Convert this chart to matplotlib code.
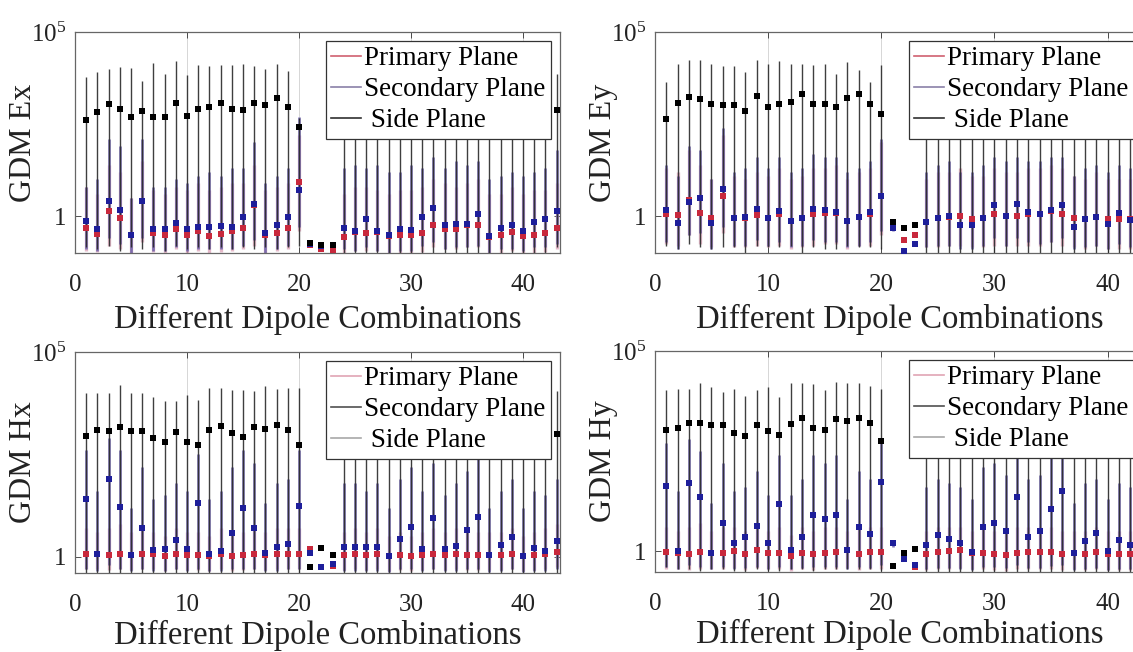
import numpy as np
import matplotlib
matplotlib.use("Agg")
import matplotlib.pyplot as plt
from matplotlib.lines import Line2D

plt.rcParams['font.family'] = ['Liberation Serif', 'DejaVu Serif']
plt.rcParams['mathtext.fontset'] = 'custom'
plt.rcParams['mathtext.rm'] = 'Liberation Serif'
plt.rcParams['mathtext.it'] = 'Liberation Serif:italic'

# dipole combination index
combos = list(range(1, 44))

# all values are log10(GDM)
# ---- Ex ----
ex_pri = [-0.32, -0.48, 0.15, -0.05, -0.52, 0.40, -0.47, -0.51, -0.36, -0.50, -0.41, -0.54, -0.48, -0.39, -0.32,
          0.30, -0.50, -0.45, -0.32, 0.92, -0.77, -0.88, -0.92, -0.56, -0.42, -0.45, -0.43, -0.54, -0.50, -0.50,
          -0.47, -0.23, -0.34, -0.34, -0.25, -0.23, -0.56, -0.52, -0.42, -0.54, -0.51, -0.47, -0.32]
ex_pri_lo = [-0.95, -0.97, -0.8, -0.9, -1.0, -0.7, -0.97, -1.0, -0.9, -1.0, -0.95, -1.0, -0.97, -0.95, -0.9,
             -0.8, -1.0, -0.95, -0.9, -0.4, -0.82, -0.93, -0.97, -1.0, -0.95, -0.95, -0.95, -1.0, -1.0, -1.0,
             -0.97, -0.85, -0.9, -0.9, -0.85, -0.85, -1.0, -1.0, -0.95, -1.0, -1.0, -0.97, -0.9]
ex_pri_hi = [0.8, 0.6, 1.4, 1.2, 0.5, 1.5, 0.7, 0.6, 0.8, 0.7, 0.9, 0.7, 0.8, 0.9, 0.9,
             1.4, 0.7, 0.8, 0.9, 2.2, -0.7, -0.82, -0.85, 0.6, 0.8, 0.8, 0.7, 0.6, 0.7, 0.7,
             0.8, 1.0, 0.9, 0.8, 0.9, 1.0, 0.6, 0.6, 0.8, 0.6, 0.7, 0.7, 0.9]
ex_sec = [-0.14, -0.36, 0.41, 0.16, -0.50, 0.41, -0.34, -0.36, -0.18, -0.36, -0.29, -0.30, -0.27, -0.29, -0.02,
          0.32, -0.47, -0.24, -0.02, 0.70, -0.75, -0.81, -0.78, -0.32, -0.40, -0.09, -0.39, -0.52, -0.36, -0.38,
          -0.02, 0.23, -0.25, -0.20, -0.20, 0.05, -0.54, -0.32, -0.25, -0.41, -0.16, -0.09, 0.14]
ex_sec_lo = [-0.9, -0.95, -0.6, -0.75, -1.0, -0.6, -0.95, -0.95, -0.85, -0.95, -0.9, -0.9, -0.9, -0.9, -0.8,
             -0.65, -1.0, -0.9, -0.8, -0.3, -0.8, -0.86, -0.83, -0.9, -0.95, -0.85, -0.95, -1.0, -0.95, -0.95,
             -0.8, -0.7, -0.9, -0.85, -0.85, -0.8, -1.0, -0.9, -0.9, -0.95, -0.85, -0.85, -0.75]
ex_sec_hi = [0.8, 1.0, 2.1, 1.9, 0.5, 2.1, 0.8, 0.8, 1.0, 0.9, 1.1, 1.2, 1.1, 1.3, 1.3,
             2.0, 0.9, 1.1, 1.3, 2.7, -0.68, -0.74, -0.72, 1.3, 1.4, 1.3, 1.4, 1.2, 1.2, 1.4,
             1.3, 1.6, 1.3, 1.5, 1.4, 1.5, 1.0, 1.1, 1.2, 1.1, 1.2, 1.3, 1.8]
ex_side = [2.62, 2.84, 3.05, 2.92, 2.70, 2.86, 2.70, 2.68, 3.08, 2.73, 2.92, 2.95, 3.08, 2.90, 2.88,
           3.06, 3.01, 3.20, 2.95, 2.41, -0.74, -0.77, -0.77, 2.9, 3.0, 2.9, 3.1, 2.9, 3.0, 2.9,
           3.0, 3.1, 2.9, 3.0, 2.9, 3.0, 2.9, 3.0, 2.9, 3.0, 3.0, 2.9, 2.88]
ex_side_lo = [-0.85, -0.9, -0.8, -0.95, -0.85, -0.9, -0.85, -0.95, -0.8, -0.9, -0.85, -0.9, -0.85, -0.9, -0.85,
              -0.9, -0.85, -0.9, -0.85, -0.8, -0.78, -0.81, -0.81, -1.0, -1.0, -1.0, -1.0, -1.0, -1.0, -1.0,
              -1.0, -1.0, -1.0, -1.0, -1.0, -1.0, -1.0, -1.0, -1.0, -1.0, -1.0, -1.0, -0.85]
ex_side_hi = [3.78, 3.92, 4.0, 4.05, 4.03, 3.68, 4.16, 3.86, 4.2, 3.84, 4.1, 4.08, 4.1, 4.1, 4.14,
              4.08, 4.0, 4.12, 3.95, 2.66, -0.7, -0.73, -0.73, 4.0, 4.0, 4.0, 4.0, 4.0, 4.0, 4.0,
              4.0, 4.0, 4.0, 4.0, 4.0, 4.0, 4.0, 4.0, 4.0, 4.0, 4.0, 4.0, 3.87]

# ---- Ey ----
ey_pri = [0.05, 0.03, 0.45, 0.09, -0.05, 0.56, -0.05, -0.05, 0.02, -0.05, 0.05, -0.12, -0.05, 0.05, 0.09,
          0.09, -0.12, -0.02, 0.05, 0.54, -0.16, -0.65, -0.50, -0.16, -0.06, -0.02, 0.0, -0.07, -0.06, 0.05,
          0.0, 0.0, 0.05, 0.06, 0.15, 0.06, -0.06, -0.09, -0.02, -0.09, -0.09, -0.09, -0.08]
ey_pri_lo = [-0.75, -0.8, -0.5, -0.75, -0.85, -0.45, -0.85, -0.85, -0.8, -0.85, -0.8, -0.9, -0.85, -0.8, -0.75,
             -0.75, -0.9, -0.8, -0.8, -0.5, -0.2, -0.7, -0.55, -0.85, -0.85, -0.8, -0.8, -0.85, -0.85, -0.8,
             -0.8, -0.8, -0.8, -0.8, -0.7, -0.8, -0.85, -0.9, -0.8, -0.9, -0.9, -0.9, -0.9]
ey_pri_hi = [1.3, 1.2, 1.8, 1.4, 1.0, 2.2, 1.1, 1.0, 1.2, 1.1, 1.3, 1.0, 1.1, 1.3, 1.3,
             1.4, 1.0, 1.2, 1.3, 2.0, -0.12, -0.6, -0.45, 1.0, 1.2, 1.2, 1.3, 1.1, 1.1, 1.3,
             1.2, 1.2, 1.3, 1.3, 1.4, 1.3, 1.1, 1.0, 1.2, 1.0, 1.0, 1.0, 1.0]
ey_sec = [0.18, -0.18, 0.39, 0.48, -0.18, 0.75, -0.05, -0.02, 0.20, -0.05, 0.15, -0.12, -0.05, 0.20, 0.18,
          0.12, -0.14, -0.02, 0.12, 0.54, -0.33, -0.95, -0.75, -0.16, -0.06, 0.0, -0.23, -0.24, -0.06, 0.30,
          0.0, 0.32, 0.12, 0.06, 0.18, 0.30, -0.29, -0.09, -0.02, -0.20, 0.09, -0.11, -0.10]
ey_sec_lo = [-0.7, -0.9, -0.5, -0.45, -0.9, -0.3, -0.8, -0.8, -0.65, -0.8, -0.7, -0.85, -0.8, -0.65, -0.7,
             -0.7, -0.85, -0.8, -0.7, -0.4, -0.4, -1.0, -0.8, -0.85, -0.8, -0.8, -0.9, -0.9, -0.8, -0.6,
             -0.8, -0.6, -0.7, -0.75, -0.7, -0.6, -0.9, -0.85, -0.8, -0.9, -0.75, -0.85, -0.85]
ey_sec_hi = [1.4, 1.1, 1.9, 1.8, 1.0, 2.4, 1.2, 1.3, 1.6, 1.3, 1.6, 1.2, 1.3, 1.7, 1.6,
             1.6, 1.2, 1.3, 1.5, 2.1, -0.28, -0.9, -0.7, 1.2, 1.4, 1.5, 1.2, 1.2, 1.4, 1.6,
             1.5, 1.6, 1.5, 1.5, 1.6, 1.6, 1.1, 1.3, 1.4, 1.2, 1.4, 1.3, 1.3]
ey_side = [2.64, 3.06, 3.24, 3.17, 3.04, 3.01, 3.01, 2.86, 3.27, 2.97, 3.05, 3.11, 3.31, 3.05, 3.05,
           2.95, 3.22, 3.31, 3.04, 2.77, -0.16, -0.32, -0.23, 3.0, 3.1, 3.0, 2.9, 3.0, 3.1, 3.0,
           2.9, 3.0, 3.1, 3.0, 2.9, 3.0, 3.0, 3.1, 3.0, 2.9, 3.0, 3.0, 3.0]
ey_side_lo = [-0.8, -0.9, -0.75, -0.85, -0.9, -0.85, -0.85, -1.0, -0.8, -0.85, -0.85, -0.8, -1.0, -0.85, -0.9,
              -0.9, -0.8, -0.85, -0.85, -0.9, -0.2, -0.36, -0.27, -1.0, -1.0, -1.0, -1.0, -1.0, -1.0, -1.0,
              -1.0, -1.0, -1.0, -1.0, -1.0, -1.0, -1.0, -1.0, -1.0, -1.0, -1.0, -1.0, -1.0]
ey_side_hi = [3.65, 4.14, 4.23, 4.23, 4.14, 4.07, 4.07, 3.92, 4.23, 4.14, 4.2, 4.14, 4.12, 4.1, 4.14,
              3.87, 4.19, 3.96, 3.65, 4.1, -0.12, -0.28, -0.19, 4.1, 4.1, 4.1, 4.1, 4.1, 4.1, 4.1,
              4.1, 4.1, 4.1, 4.1, 4.1, 4.1, 4.1, 4.1, 4.1, 4.1, 4.1, 4.1, 4.1]

# ---- Hx ----
hx_pri = [0.06, 0.06, 0.04, 0.06, 0.04, 0.06, 0.06, 0.02, 0.06, 0.04, 0.04, 0.02, 0.06, 0.02, 0.04,
          0.06, 0.04, 0.06, 0.06, 0.06, 0.19, -0.24, -0.22, 0.04, 0.06, 0.04, 0.06, 0.02, 0.04, 0.02,
          0.04, 0.06, 0.04, 0.06, 0.04, 0.04, 0.04, 0.04, 0.06, 0.02, 0.04, 0.06, 0.12]
hx_pri_lo = [-0.3, -0.3, -0.32, -0.3, -0.32, -0.3, -0.3, -0.35, -0.3, -0.32, -0.32, -0.35, -0.3, -0.35, -0.32,
             -0.3, -0.32, -0.3, -0.3, -0.3, 0.14, -0.3, -0.28, -0.32, -0.3, -0.32, -0.3, -0.35, -0.32, -0.35,
             -0.32, -0.3, -0.32, -0.3, -0.32, -0.32, -0.32, -0.32, -0.3, -0.35, -0.32, -0.3, -0.25]
hx_pri_hi = [0.7, 0.6, 0.7, 0.8, 0.6, 0.7, 0.6, 0.5, 0.7, 0.6, 0.6, 0.5, 0.7, 0.6, 0.6,
             0.7, 0.6, 0.7, 0.7, 0.7, 0.25, -0.2, -0.18, 0.6, 0.7, 0.6, 0.7, 0.5, 0.6, 0.5,
             0.6, 0.7, 0.6, 0.7, 0.6, 0.6, 0.6, 0.6, 0.7, 0.5, 0.6, 0.7, 0.8]
hx_sec = [1.40, 0.06, 1.89, 1.22, 0.04, 0.71, 0.16, 0.18, 0.41, 0.19, 1.30, 0.07, 0.14, 0.57, 1.18,
          0.71, 0.08, 0.24, 0.30, 1.24, 0.10, -0.24, -0.18, 0.24, 0.24, 0.23, 0.24, 0.02, 0.42, 0.73,
          0.18, 0.94, 0.18, 0.27, 0.64, 0.96, 0.04, 0.29, 0.47, 0.02, 0.20, 0.15, 0.38]
hx_sec_lo = [-0.3, -0.35, -0.2, -0.3, -0.35, -0.3, -0.35, -0.35, -0.3, -0.35, -0.3, -0.35, -0.35, -0.3, -0.3,
             -0.3, -0.35, -0.35, -0.3, -0.3, 0.05, -0.3, -0.24, -0.35, -0.35, -0.35, -0.35, -0.38, -0.3, -0.3,
             -0.35, -0.3, -0.35, -0.35, -0.3, -0.3, -0.38, -0.35, -0.3, -0.38, -0.35, -0.35, -0.3]
hx_sec_hi = [2.6, 1.6, 2.9, 2.6, 1.2, 2.2, 1.4, 1.5, 1.8, 1.6, 2.5, 1.4, 1.6, 2.2, 2.6,
             2.3, 1.3, 1.8, 1.9, 2.6, 0.15, -0.2, -0.14, 1.8, 1.8, 1.6, 1.8, 1.2, 1.9, 2.2,
             1.6, 2.3, 1.5, 1.8, 2.1, 2.4, 1.2, 1.6, 1.9, 1.2, 1.6, 1.5, 1.9]
hx_side = [2.95, 3.10, 3.07, 3.16, 3.07, 3.07, 2.90, 2.79, 3.04, 2.81, 2.72, 3.10, 3.20, 3.03, 2.93,
           3.16, 3.12, 3.22, 3.09, 2.73, -0.24, 0.20, 0.04, 3.0, 3.1, 3.0, 2.9, 3.0, 3.1, 3.0,
           2.9, 3.0, 3.1, 3.0, 2.9, 3.0, 3.0, 3.1, 3.0, 2.9, 3.0, 3.0, 3.0]
hx_side_lo = [-0.4, -0.4, -0.4, -0.4, -0.4, -0.4, -0.4, -0.4, -0.4, -0.4, -0.4, -0.4, -0.4, -0.4, -0.4,
              -0.4, -0.4, -0.4, -0.4, -0.4, -0.28, 0.16, 0.0, -0.4, -0.4, -0.4, -0.4, -0.4, -0.4, -0.4,
              -0.4, -0.4, -0.4, -0.4, -0.4, -0.4, -0.4, -0.4, -0.4, -0.4, -0.4, -0.4, -0.4]
hx_side_hi = [4.0, 4.0, 4.0, 4.2, 4.0, 4.0, 3.9, 3.8, 3.8, 3.96, 3.83, 4.12, 4.12, 4.08, 4.08,
              4.04, 4.16, 4.1, 4.13, 4.12, -0.2, 0.24, 0.08, 4.0, 4.0, 4.0, 4.0, 4.0, 4.0, 4.0,
              4.0, 4.0, 4.0, 4.0, 4.0, 4.0, 4.0, 4.0, 4.0, 4.0, 4.0, 4.0, 4.04]

# ---- Hy ----
hy_pri = [-0.02, -0.04, -0.07, -0.02, -0.04, -0.04, 0.0, -0.08, 0.02, -0.04, -0.05, -0.13, -0.06, -0.08, -0.04,
          -0.03, 0.02, -0.07, -0.02, -0.03, 0.21, -0.17, -0.40, -0.08, -0.03, -0.01, 0.02, -0.05, -0.06, -0.08,
          -0.10, -0.05, -0.03, -0.03, -0.03, -0.08, -0.05, -0.08, -0.03, -0.08, -0.07, -0.07, -0.07]
hy_pri_lo = [-0.45, -0.45, -0.48, -0.45, -0.45, -0.45, -0.42, -0.48, -0.42, -0.45, -0.45, -0.5, -0.45, -0.48, -0.45,
             -0.45, -0.42, -0.48, -0.45, -0.45, 0.16, -0.22, -0.45, -0.48, -0.45, -0.45, -0.42, -0.45, -0.45, -0.48,
             -0.5, -0.45, -0.45, -0.45, -0.45, -0.48, -0.45, -0.48, -0.45, -0.48, -0.48, -0.48, -0.48]
hy_pri_hi = [0.6, 0.5, 0.6, 0.7, 0.5, 0.6, 0.6, 0.5, 0.6, 0.5, 0.6, 0.4, 0.6, 0.5, 0.6,
             0.6, 0.5, 0.6, 0.6, 0.6, 0.26, -0.12, -0.35, 0.5, 0.6, 0.6, 0.6, 0.5, 0.6, 0.5,
             0.5, 0.6, 0.6, 0.6, 0.6, 0.5, 0.5, 0.5, 0.6, 0.5, 0.5, 0.5, 0.5]
hy_sec = [1.62, 0.0, 1.70, 1.34, -0.04, 0.71, 0.19, 0.34, 0.63, 0.19, 1.17, 0.03, 0.36, 0.90, 0.80,
          0.90, 0.02, 0.59, 0.42, 1.72, 0.19, -0.19, -0.34, 0.15, 0.39, 0.29, 0.21, -0.03, 0.60, 0.70,
          0.49, 1.34, 0.36, 0.50, 1.06, 1.49, -0.06, 0.25, 0.44, 0.0, 0.28, 0.15, 0.20]
hy_sec_lo = [-0.4, -0.45, -0.35, -0.4, -0.45, -0.4, -0.45, -0.42, -0.4, -0.45, -0.4, -0.45, -0.42, -0.4, -0.4,
             -0.4, -0.45, -0.4, -0.42, -0.35, 0.1, -0.25, -0.4, -0.45, -0.42, -0.42, -0.45, -0.48, -0.4, -0.4,
             -0.42, -0.35, -0.42, -0.42, -0.38, -0.35, -0.48, -0.45, -0.42, -0.48, -0.45, -0.45, -0.45]
hy_sec_hi = [2.7, 1.5, 2.8, 2.5, 1.2, 2.2, 1.5, 1.6, 2.0, 1.4, 2.4, 1.4, 1.8, 2.4, 2.2,
             2.4, 1.3, 2.0, 1.8, 2.8, 0.24, -0.15, -0.3, 1.6, 1.8, 1.7, 1.6, 1.3, 2.1, 2.2,
             1.9, 2.6, 1.8, 1.9, 2.4, 2.6, 1.2, 1.7, 1.8, 1.3, 1.7, 1.6, 1.6]
hy_side = [3.02, 3.08, 3.21, 3.21, 3.14, 3.14, 2.96, 2.87, 3.14, 3.0, 2.89, 3.18, 3.32, 3.07, 3.03,
           3.31, 3.24, 3.33, 3.2, 2.76, -0.38, -0.04, 0.06, 3.0, 3.1, 3.0, 2.9, 3.0, 3.1, 3.0,
           2.9, 3.0, 3.1, 3.0, 2.9, 3.0, 3.0, 3.1, 3.0, 2.9, 3.0, 3.0, 3.0]
hy_side_lo = [-0.4, -0.45, -0.45, -0.5, -0.45, -0.45, -0.5, -0.55, -0.45, -0.5, -0.5, -0.45, -0.45, -0.5, -0.45,
              -0.45, -0.45, -0.45, -0.45, -0.5, -0.42, -0.08, 0.02, -0.55, -0.55, -0.55, -0.55, -0.55, -0.55, -0.55,
              -0.55, -0.55, -0.55, -0.55, -0.55, -0.55, -0.55, -0.55, -0.55, -0.55, -0.55, -0.55, -0.55]
hy_side_hi = [4.02, 4.06, 4.06, 4.19, 4.09, 3.98, 4.06, 3.87, 4.02, 4.09, 3.85, 4.19, 4.19, 4.17, 4.02,
              4.23, 4.19, 4.19, 4.12, 4.04, -0.34, 0.0, 0.1, 4.0, 4.0, 4.0, 4.0, 4.0, 4.0, 4.0,
              4.0, 4.0, 4.0, 4.0, 4.0, 4.0, 4.0, 4.0, 4.0, 4.0, 4.0, 4.0, 4.0]

labels = ["Primary Plane", "Secondary Plane", " Side Plane"]
mark_colors = ["#c8283c", "#1e1e9a", "#000000"]
# primary drawn widest at the back, side plane thinnest on top
bar_colors = ["#dca2b8", "#6a5fa8", "#2a2a2a"]
bar_widths = [2.4, 1.9, 1.0]
bar_alpha = [0.75, 0.85, 0.9]
bar_z = [2.0, 2.1, 2.2]
legend_top = ["#d06070", "#8a80a8", "#303030"]
legend_bottom = ["#e0a4b4", "#505050", "#a8a8a8"]

fig = plt.figure(figsize=(11.33, 6.52), dpi=100)

panels = [
    ("GDM Ex", [0.0662, 0.612, 0.428, 0.339], 0.1, 0.981, 6, legend_top,
     [(ex_pri, ex_pri_lo, ex_pri_hi), (ex_sec, ex_sec_lo, ex_sec_hi), (ex_side, ex_side_lo, ex_side_hi)]),
    ("GDM Ey", [0.578, 0.612, 0.4325, 0.339], 0.1, 0.977, 6, legend_top,
     [(ey_pri, ey_pri_lo, ey_pri_hi), (ey_sec, ey_sec_lo, ey_sec_hi), (ey_side, ey_side_lo, ey_side_hi)]),
    ("GDM Hx", [0.0662, 0.1212, 0.428, 0.339], 0.4, 0.981, 3, legend_bottom,
     [(hx_pri, hx_pri_lo, hx_pri_hi), (hx_sec, hx_sec_lo, hx_sec_hi), (hx_side, hx_side_lo, hx_side_hi)]),
    ("GDM Hy", [0.578, 0.1227, 0.4325, 0.339], 0.3, 0.977, 3, legend_bottom,
     [(hy_pri, hy_pri_lo, hy_pri_hi), (hy_sec, hy_sec_lo, hy_sec_hi), (hy_side, hy_side_lo, hy_side_hi)]),
]

for name, rect, ybot, legx, xpad, leg_cols, series in panels:
    ax = fig.add_axes(rect)
    x = np.array(combos)
    for (v, lo, hi), bc, bw, ba, bz in zip(series, bar_colors, bar_widths, bar_alpha, bar_z):
        v = 10.0 ** np.array(v)
        lo = 10.0 ** np.array(lo)
        hi = 10.0 ** np.array(hi)
        ax.errorbar(x, v, yerr=[v - lo, hi - v], fmt='none', ecolor=bc,
                    elinewidth=bw, capsize=0, alpha=ba, zorder=bz)
    for (v, lo, hi), mc in zip(series, mark_colors):
        ax.plot(x, 10.0 ** np.array(v), 's', color=mc, markersize=4.8,
                markeredgewidth=0, zorder=3)

    ax.set_yscale('log')
    ax.set_ylim(ybot, 1e5)
    ax.set_xlim(0, 43.3)
    ax.set_xticks([0, 10, 20, 30, 40])
    ax.set_yticks([1, 1e5])
    ax.set_yticklabels(['1', r'$10^5$'])
    ax.yaxis.set_minor_locator(matplotlib.ticker.NullLocator())
    ax.tick_params(direction='in', top=True, right=True, length=4, width=0.6,
                   labelsize=18, pad=6, colors='#333333', labelcolor='#222222')
    ax.tick_params(axis='x', pad=15)
    ax.grid(axis='x', color='#d0d0d0', linewidth=0.6)
    for sp in ax.spines.values():
        sp.set_color('#666666')
        sp.set_linewidth(0.9)
    ax.set_xlabel("Different Dipole Combinations", fontsize=23.5, labelpad=xpad, color='#222222')
    ax.set_ylabel(name, fontsize=23, labelpad=-5, color='#222222')

    handles = [Line2D([], [], color=c, lw=1.2) for c in leg_cols]
    leg = ax.legend(handles, labels, loc='upper right', bbox_to_anchor=(legx, 0.959),
                    fontsize=19.5, frameon=True, fancybox=False, framealpha=1,
                    edgecolor='#333333', borderpad=0.2, labelspacing=0.22,
                    handlelength=1.1, handletextpad=0.1, borderaxespad=0)
    leg.get_frame().set_linewidth(0.9)
    leg.set_zorder(5)

fig.savefig("out.png", dpi=100)
